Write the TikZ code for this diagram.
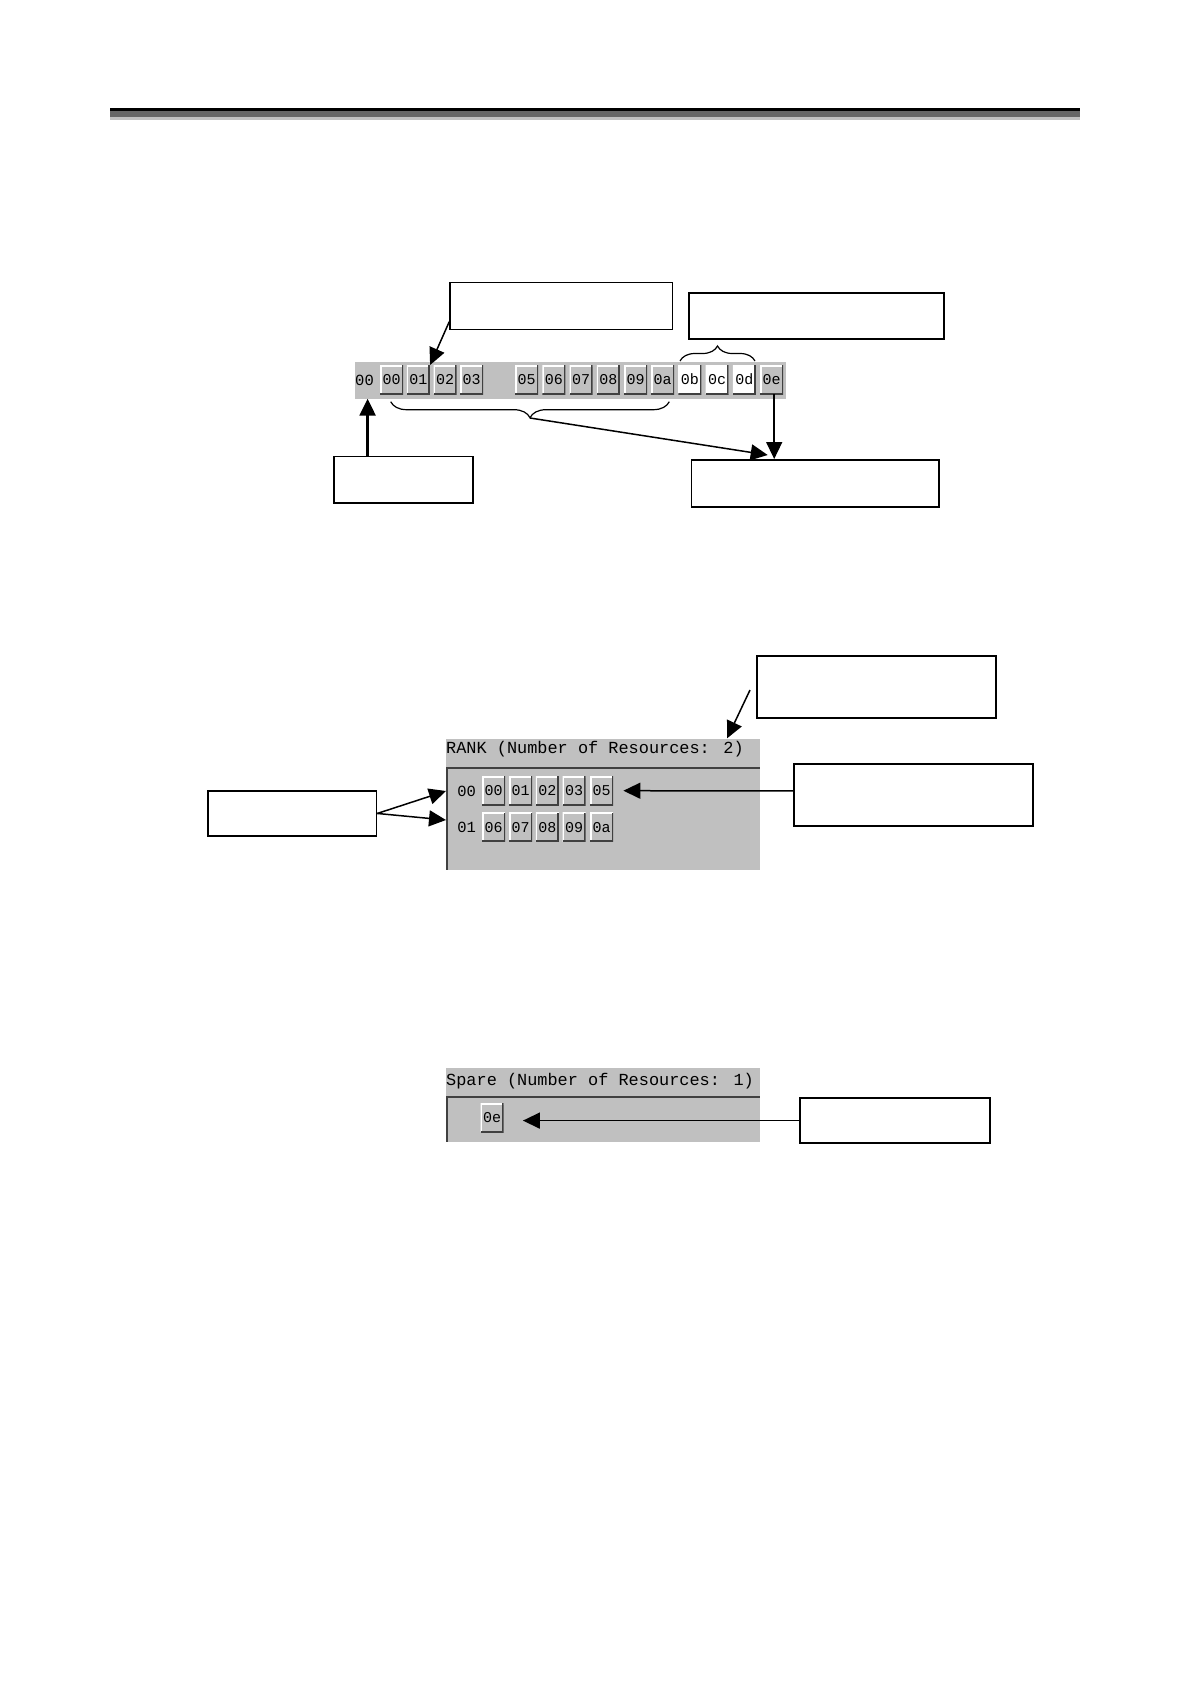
\documentclass[tikz,border=0pt]{standalone}
\usepackage{fontspec}
\newfontfamily\scrfont{Liberation Mono}
\usetikzlibrary{arrows.meta,decorations.pathreplacing}
\definecolor{winGray}{HTML}{C0C0C0}
\definecolor{barGray}{HTML}{666666}
\definecolor{btnDark}{HTML}{404040}
\tikzset{
  btnbase/.style={minimum width=23pt, minimum height=29pt, inner sep=0pt, anchor=north west,
    text height=10.5pt, text depth=0pt,
    font=\scrfont\fontsize{15}{15}\selectfont,
    path picture={
      \draw[white,line width=3pt] (path picture bounding box.south west) -- (path picture bounding box.north west) -- (path picture bounding box.north east);
      \draw[btnDark,line width=3pt] (path picture bounding box.north east) -- (path picture bounding box.south east) -- (path picture bounding box.south west);}},
  gbtn/.style={btnbase, fill=winGray},
  wbtn/.style={btnbase, fill=white},
  lbl/.style={inner sep=0pt, font=\scrfont\fontsize{15.5}{15.5}\selectfont},
  ttl/.style={inner sep=0pt, anchor=base west, font=\scrfont\fontsize{16.9}{16.9}\selectfont},
  panel/.style={fill=winGray, inner sep=0pt, anchor=north west},
  callbox/.style={draw=black, line width=1.6pt, fill=white, inner sep=0pt, anchor=north west},
  arr/.style={-{Triangle[length=17pt,width=16pt]}, line width=1.5pt},
  brc/.style={decorate, line width=1.2pt},
}
\begin{document}
\begin{tikzpicture}[x=1pt,y=-1pt]
\useasboundingbox[fill=white] (0,0) rectangle (1190,1684);

% header bar
\fill[black] (110,108.3) rectangle (1080,111);
\fill[barGray] (110,111) rectangle (1080,117);
\fill[winGray] (110,117) rectangle (1080,119.7);

% ---------- top section ----------
\node[panel, minimum width=431.7pt, minimum height=36.6pt] (strip) at (354.3,361.7) {};
\node[lbl] (t00) at (364.5,380) {00};
\node[gbtn] (s00) at (380,365) {00};
\node[gbtn] (s01) at (406.7,365) {01};
\node[gbtn] (s02) at (433.3,365) {02};
\node[gbtn] (s03) at (460,365) {03};
\node[gbtn] (s05) at (515,365) {05};
\node[gbtn] (s06) at (542.2,365) {06};
\node[gbtn] (s07) at (569.4,365) {07};
\node[gbtn] (s08) at (596.6,365) {08};
\node[gbtn] (s09) at (623.8,365) {09};
\node[gbtn] (s0a) at (651,365) {0a};
\node[wbtn] (s0b) at (678.2,365) {0b};
\node[wbtn] (s0c) at (705.4,365) {0c};
\node[wbtn] (s0d) at (732.6,365) {0d};
\node[gbtn] (s0e) at (760,365) {0e};

\node[callbox, minimum width=222.4pt, minimum height=47pt] (tl) at (449.3,281.7) {};
\node[callbox, minimum width=255pt, minimum height=46pt] (tr) at (688.3,292.3) {};
\node[callbox, minimum width=139pt, minimum height=46.6pt] (lb) at (333.3,455.7) {};
\node[callbox, minimum width=247.6pt, minimum height=47pt] (br) at (690.7,459) {};

% braces
\draw[brc, decoration={brace, amplitude=15pt}] (680,361) -- (755,361);
\draw[brc, decoration={brace, mirror, amplitude=16pt}] (390.7,401.7) -- (669.3,401.7);
\coordinate (btip) at (530,418);

\draw[arr] ([yshift=8.7pt]tl.south west) -- (s01.north east);
\draw[arr, line width=2.5pt] ([xshift=-36pt]lb.north) -- ([xshift=-36pt]lb.north |- strip.south);
\draw[arr] (btip) -- ([xshift=77pt,yshift=4pt]br.north west);
\draw[arr] ([xshift=2.5pt]s0e.south) -- ([xshift=2.5pt]s0e.south |- br.north);

% ---------- RANK section ----------
\node[panel, minimum width=314pt, minimum height=131.7pt] (rank) at (446,738.3) {};
\node[ttl] (rankt) at (446,753.5) {RANK (Number of Resources: 2)};
\draw[btnDark, line width=2pt] (446,767.7) -- (760,767.7);
\draw[btnDark, line width=2pt] (447,767.7) -- (447,870);
\node[lbl] (r00) at (466.7,791) {00};
\node[lbl] (r01) at (466.7,827) {01};
\node[gbtn] (a00) at (482,776) {00};
\node[gbtn] (a01) at (509,776) {01};
\node[gbtn] (a02) at (535.7,776) {02};
\node[gbtn] (a03) at (562.3,776) {03};
\node[gbtn] (a05) at (590,776) {05};
\node[gbtn] (a06) at (482,812.3) {06};
\node[gbtn] (a07) at (509,812.3) {07};
\node[gbtn] (a08) at (535.7,812.3) {08};
\node[gbtn] (a09) at (562.3,812.3) {09};
\node[gbtn] (a0a) at (590,812.3) {0a};

\node[callbox, minimum width=239pt, minimum height=62.3pt] (mt) at (756,655) {};
\node[callbox, minimum width=168.4pt, minimum height=45.3pt] (ml) at (207.3,790) {};
\node[callbox, minimum width=239pt, minimum height=61.7pt] (mr) at (793.3,763.3) {};

\coordinate (mtfree) at (750,690);
\draw[arr] (mtfree) -- ([xshift=-33.3pt]rank.north east);
\draw[arr] (ml.east) -- (rank.west |- r00.west);
\draw[arr] (ml.east) -- ([yshift=7pt]rank.west |- r01.west);
\draw[arr] ([yshift=4pt]mr.west) -- ([xshift=10pt]a05.east);

% ---------- Spare section ----------
\node[panel, minimum width=314pt, minimum height=73.7pt] (spare) at (446,1068) {};
\node[ttl] (sparet) at (446,1085) {Spare (Number of Resources: 1)};
\draw[btnDark, line width=2pt] (446,1096.7) -- (760,1096.7);
\draw[btnDark, line width=2pt] (447,1096.7) -- (447,1141.7);
\draw[white, line width=1.2pt] (761,1097) -- (761,1141.7);
\node[gbtn] (p0e) at (480.5,1103) {0e};

\node[callbox, minimum width=190pt, minimum height=45pt] (sb) at (799.3,1097.3) {};
\draw[arr] (sb.west) -- ([xshift=19pt]p0e.east |- sb.west);

\end{tikzpicture}
\end{document}
